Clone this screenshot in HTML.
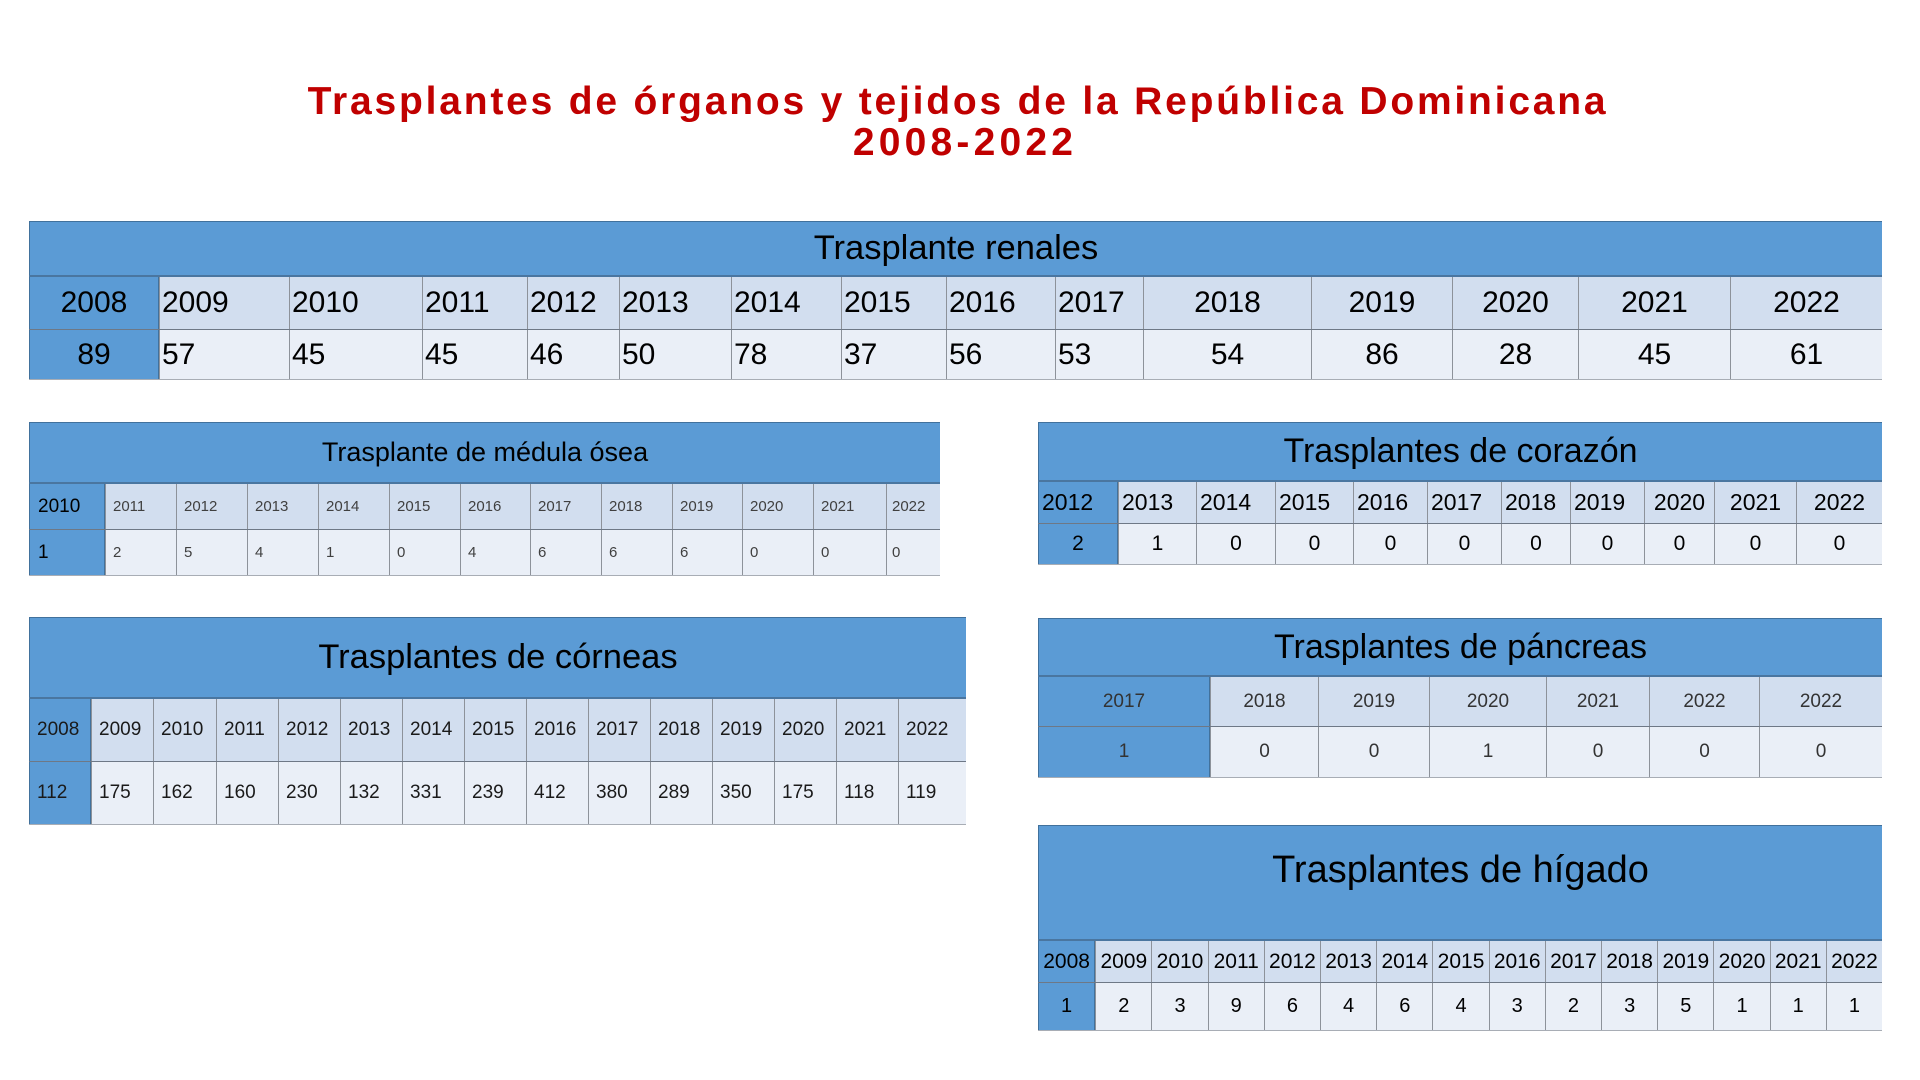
<!DOCTYPE html>
<html>
<head>
<meta charset="utf-8">
<style>
html,body{margin:0;padding:0;}
body{width:1920px;height:1080px;background:#fff;position:relative;overflow:hidden;font-family:"Liberation Sans",Arial,sans-serif;}
.tt{position:absolute;left:0;width:1920px;text-align:center;color:#C00000;font-weight:bold;font-size:39px;line-height:44px;white-space:nowrap;}
.t{position:absolute;}
.h{background:#5B9BD5;display:flex;align-items:center;justify-content:center;color:#000;border-top:1px solid #41719C;border-left:1px solid #41719C;box-sizing:border-box;white-space:nowrap;}
.r{display:flex;box-sizing:border-box;}
.y{border-top:2px solid #4a76a0;}
.v{border-top:1px solid #6e7886;border-bottom:1px solid #a8adb5;}
.c{box-sizing:border-box;display:flex;align-items:center;border-left:1px solid #8d929a;flex:none;white-space:nowrap;overflow:hidden;}
.c.m{justify-content:center;}
.y .c{background:#D2DEEF;}
.v .c{background:#EAEFF7;}
.y .c.f,.v .c.f{background:#5B9BD5;border-left:1px solid #41719C;border-right:1px solid #41719C;}
.eq .c{flex:1 1 0;width:0;}
</style>
</head>
<body>

<div class="tt" style="top:80px;letter-spacing:2.8px;left:-2px;">Trasplantes de órganos y tejidos de la República Dominicana</div>
<div class="tt" style="top:121px;letter-spacing:4.2px;left:5px;">2008-2022</div>

<!-- Renal -->
<div class="t" style="left:29px;top:221px;width:1853px;color:#000;">
  <div class="h" style="height:54px;font-size:34.5px;">Trasplante renales</div>
  <div class="r y" style="height:54px;font-size:30px;">
    <div class="c f m" style="width:130px">2008</div>
    <div class="c" style="width:130px;padding-left:2px">2009</div>
    <div class="c" style="width:133px;padding-left:2px">2010</div>
    <div class="c" style="width:105px;padding-left:2px">2011</div>
    <div class="c" style="width:92px;padding-left:2px">2012</div>
    <div class="c" style="width:112px;padding-left:2px">2013</div>
    <div class="c" style="width:110px;padding-left:2px">2014</div>
    <div class="c" style="width:105px;padding-left:2px">2015</div>
    <div class="c" style="width:109px;padding-left:2px">2016</div>
    <div class="c" style="width:88px;padding-left:2px">2017</div>
    <div class="c m" style="width:168px">2018</div>
    <div class="c m" style="width:141px">2019</div>
    <div class="c m" style="width:126px">2020</div>
    <div class="c m" style="width:152px">2021</div>
    <div class="c m" style="width:152px">2022</div>
  </div>
  <div class="r v" style="height:51px;font-size:30px;">
    <div class="c f m" style="width:130px">89</div>
    <div class="c" style="width:130px;padding-left:2px">57</div>
    <div class="c" style="width:133px;padding-left:2px">45</div>
    <div class="c" style="width:105px;padding-left:2px">45</div>
    <div class="c" style="width:92px;padding-left:2px">46</div>
    <div class="c" style="width:112px;padding-left:2px">50</div>
    <div class="c" style="width:110px;padding-left:2px">78</div>
    <div class="c" style="width:105px;padding-left:2px">37</div>
    <div class="c" style="width:109px;padding-left:2px">56</div>
    <div class="c" style="width:88px;padding-left:2px">53</div>
    <div class="c m" style="width:168px">54</div>
    <div class="c m" style="width:141px">86</div>
    <div class="c m" style="width:126px">28</div>
    <div class="c m" style="width:152px">45</div>
    <div class="c m" style="width:152px">61</div>
  </div>
</div>

<!-- Medula -->
<div class="t" style="left:29px;top:422px;width:911px;color:#404040;">
  <div class="h" style="height:60px;font-size:27px;">Trasplante de médula ósea</div>
  <div class="r y" style="height:47px;font-size:15px;">
    <div class="c f" style="width:76px;padding-left:8px;font-size:19px;color:#000">2010</div>
    <div class="c" style="width:71px;padding-left:7px">2011</div>
    <div class="c" style="width:71px;padding-left:7px">2012</div>
    <div class="c" style="width:71px;padding-left:7px">2013</div>
    <div class="c" style="width:71px;padding-left:7px">2014</div>
    <div class="c" style="width:71px;padding-left:7px">2015</div>
    <div class="c" style="width:70px;padding-left:7px">2016</div>
    <div class="c" style="width:71px;padding-left:7px">2017</div>
    <div class="c" style="width:71px;padding-left:7px">2018</div>
    <div class="c" style="width:70px;padding-left:7px">2019</div>
    <div class="c" style="width:71px;padding-left:7px">2020</div>
    <div class="c" style="width:73px;padding-left:7px">2021</div>
    <div class="c" style="width:54px;padding-left:5px">2022</div>
  </div>
  <div class="r v" style="height:47px;font-size:15px;">
    <div class="c f" style="width:76px;padding-left:8px;font-size:19px;color:#000">1</div>
    <div class="c" style="width:71px;padding-left:7px">2</div>
    <div class="c" style="width:71px;padding-left:7px">5</div>
    <div class="c" style="width:71px;padding-left:7px">4</div>
    <div class="c" style="width:71px;padding-left:7px">1</div>
    <div class="c" style="width:71px;padding-left:7px">0</div>
    <div class="c" style="width:70px;padding-left:7px">4</div>
    <div class="c" style="width:71px;padding-left:7px">6</div>
    <div class="c" style="width:71px;padding-left:7px">6</div>
    <div class="c" style="width:70px;padding-left:7px">6</div>
    <div class="c" style="width:71px;padding-left:7px">0</div>
    <div class="c" style="width:73px;padding-left:7px">0</div>
    <div class="c" style="width:54px;padding-left:5px">0</div>
  </div>
</div>

<!-- Corneas -->
<div class="t" style="left:29px;top:617px;width:937px;color:#1a1a1a;">
  <div class="h" style="height:80px;font-size:34.5px;">Trasplantes de córneas</div>
  <div class="r y" style="height:64px;font-size:19px;">
    <div class="c f" style="width:62px;padding-left:7px">2008</div>
    <div class="c" style="width:62px;padding-left:7px">2009</div>
    <div class="c" style="width:63px;padding-left:7px">2010</div>
    <div class="c" style="width:62px;padding-left:7px">2011</div>
    <div class="c" style="width:62px;padding-left:7px">2012</div>
    <div class="c" style="width:62px;padding-left:7px">2013</div>
    <div class="c" style="width:62px;padding-left:7px">2014</div>
    <div class="c" style="width:62px;padding-left:7px">2015</div>
    <div class="c" style="width:62px;padding-left:7px">2016</div>
    <div class="c" style="width:62px;padding-left:7px">2017</div>
    <div class="c" style="width:62px;padding-left:7px">2018</div>
    <div class="c" style="width:62px;padding-left:7px">2019</div>
    <div class="c" style="width:62px;padding-left:7px">2020</div>
    <div class="c" style="width:62px;padding-left:7px">2021</div>
    <div class="c" style="width:68px;padding-left:7px">2022</div>
  </div>
  <div class="r v" style="height:64px;font-size:19px;">
    <div class="c f" style="width:62px;padding-left:7px">112</div>
    <div class="c" style="width:62px;padding-left:7px">175</div>
    <div class="c" style="width:63px;padding-left:7px">162</div>
    <div class="c" style="width:62px;padding-left:7px">160</div>
    <div class="c" style="width:62px;padding-left:7px">230</div>
    <div class="c" style="width:62px;padding-left:7px">132</div>
    <div class="c" style="width:62px;padding-left:7px">331</div>
    <div class="c" style="width:62px;padding-left:7px">239</div>
    <div class="c" style="width:62px;padding-left:7px">412</div>
    <div class="c" style="width:62px;padding-left:7px">380</div>
    <div class="c" style="width:62px;padding-left:7px">289</div>
    <div class="c" style="width:62px;padding-left:7px">350</div>
    <div class="c" style="width:62px;padding-left:7px">175</div>
    <div class="c" style="width:62px;padding-left:7px">118</div>
    <div class="c" style="width:68px;padding-left:7px">119</div>
  </div>
</div>

<!-- Corazon -->
<div class="t" style="left:1038px;top:422px;width:844px;color:#000;">
  <div class="h" style="height:58px;font-size:34px;">Trasplantes de corazón</div>
  <div class="r y" style="height:43px;font-size:23px;">
    <div class="c f" style="width:80px;padding-left:3px">2012</div>
    <div class="c" style="width:78px;padding-left:3px">2013</div>
    <div class="c" style="width:79px;padding-left:3px">2014</div>
    <div class="c" style="width:78px;padding-left:3px">2015</div>
    <div class="c" style="width:74px;padding-left:3px">2016</div>
    <div class="c" style="width:74px;padding-left:3px">2017</div>
    <div class="c" style="width:69px;padding-left:3px">2018</div>
    <div class="c" style="width:74px;padding-left:3px">2019</div>
    <div class="c m" style="width:70px">2020</div>
    <div class="c m" style="width:82px">2021</div>
    <div class="c m" style="width:86px">2022</div>
  </div>
  <div class="r v" style="height:42px;font-size:21px;">
    <div class="c f m" style="width:80px">2</div>
    <div class="c m" style="width:78px">1</div>
    <div class="c m" style="width:79px">0</div>
    <div class="c m" style="width:78px">0</div>
    <div class="c m" style="width:74px">0</div>
    <div class="c m" style="width:74px">0</div>
    <div class="c m" style="width:69px">0</div>
    <div class="c m" style="width:74px">0</div>
    <div class="c m" style="width:70px">0</div>
    <div class="c m" style="width:82px">0</div>
    <div class="c m" style="width:86px">0</div>
  </div>
</div>

<!-- Pancreas -->
<div class="t" style="left:1038px;top:618px;width:844px;color:#333;">
  <div class="h" style="height:57px;font-size:34px;color:#000;">Trasplantes de páncreas</div>
  <div class="r y" style="height:51px;font-size:19px;">
    <div class="c f m" style="width:172px">2017</div>
    <div class="c m" style="width:108px">2018</div>
    <div class="c m" style="width:111px">2019</div>
    <div class="c m" style="width:117px">2020</div>
    <div class="c m" style="width:103px">2021</div>
    <div class="c m" style="width:110px">2022</div>
    <div class="c m" style="width:123px">2022</div>
  </div>
  <div class="r v" style="height:52px;font-size:19px;">
    <div class="c f m" style="width:172px">1</div>
    <div class="c m" style="width:108px">0</div>
    <div class="c m" style="width:111px">0</div>
    <div class="c m" style="width:117px">1</div>
    <div class="c m" style="width:103px">0</div>
    <div class="c m" style="width:110px">0</div>
    <div class="c m" style="width:123px">0</div>
  </div>
</div>

<!-- Higado -->
<div class="t" style="left:1038px;top:825px;width:844px;color:#000;">
  <div class="h" style="height:114px;font-size:38px;line-height:38px;align-items:flex-start;padding-top:25px;">Trasplantes de hígado</div>
  <div class="r y eq" style="height:43px;font-size:21px;">
    <div class="c f m">2008</div>
    <div class="c m">2009</div>
    <div class="c m">2010</div>
    <div class="c m">2011</div>
    <div class="c m">2012</div>
    <div class="c m">2013</div>
    <div class="c m">2014</div>
    <div class="c m">2015</div>
    <div class="c m">2016</div>
    <div class="c m">2017</div>
    <div class="c m">2018</div>
    <div class="c m">2019</div>
    <div class="c m">2020</div>
    <div class="c m">2021</div>
    <div class="c m">2022</div>
  </div>
  <div class="r v eq" style="height:49px;font-size:20px;">
    <div class="c f m">1</div>
    <div class="c m">2</div>
    <div class="c m">3</div>
    <div class="c m">9</div>
    <div class="c m">6</div>
    <div class="c m">4</div>
    <div class="c m">6</div>
    <div class="c m">4</div>
    <div class="c m">3</div>
    <div class="c m">2</div>
    <div class="c m">3</div>
    <div class="c m">5</div>
    <div class="c m">1</div>
    <div class="c m">1</div>
    <div class="c m">1</div>
  </div>
</div>

</body>
</html>
